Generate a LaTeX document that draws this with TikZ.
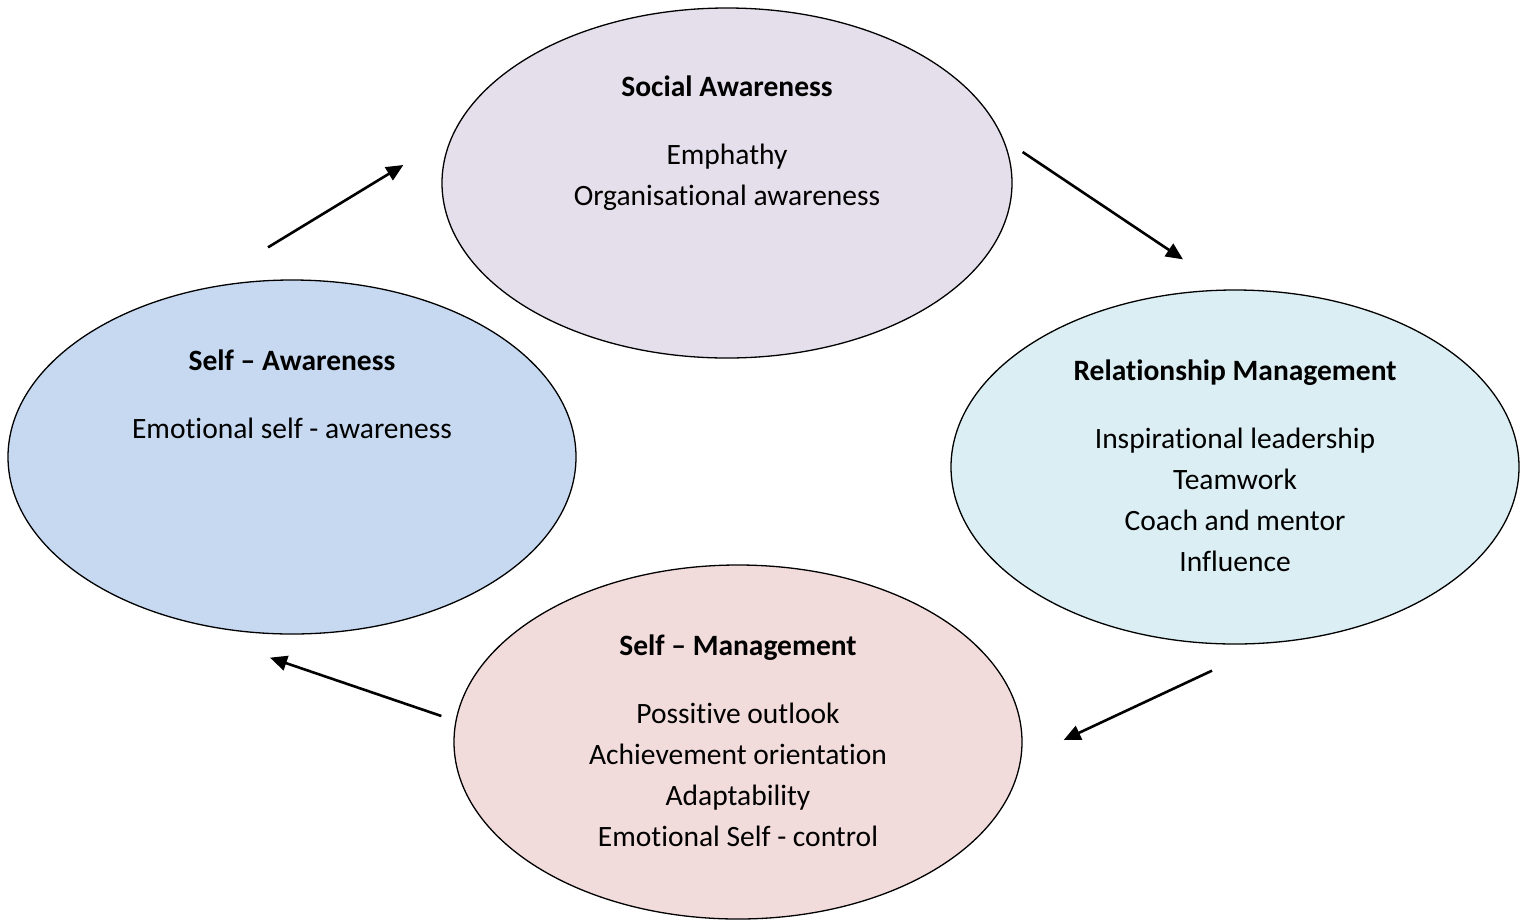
\documentclass[tikz,border=0pt]{standalone}
\usepackage{fontspec}
\setmainfont{Carlito}[Ligatures=NoCommon]
\usetikzlibrary{arrows.meta,shapes.geometric,calc}

\definecolor{socfill}{HTML}{E5DFEC}
\definecolor{safill}{HTML}{C6D9F1}
\definecolor{rmfill}{HTML}{DBEEF3}
\definecolor{smfill}{HTML}{F2DCDB}

\begin{document}
\begin{tikzpicture}[x=1pt,y=-1pt,->,>={Triangle[length=17pt,width=15pt]},
                    line width=2.6pt]

  \tikzstyle{bubble}=[ellipse,draw,line width=1.3pt,inner sep=0pt,
                      minimum width=568pt,minimum height=354pt]
  \tikzstyle{words}=[anchor=north,inner sep=0pt,align=center,
                     font=\fontsize{29.5}{41}\selectfont]

  \useasboundingbox (0,0) rectangle (1526,922);

  \node[bubble,fill=socfill,minimum width=570pt,minimum height=350pt] (soc) at (727,183) {};
  \node[bubble,fill=safill]  (sa)  at (292,457) {};
  \node[bubble,fill=rmfill]  (rm)  at (1235,467) {};
  \node[bubble,fill=smfill]  (sm)  at (738,742) {};

  \node[words] (soctxt) at ($(soc.center)+(0,-109)$)
    {\textbf{Social Awareness}\\[27pt] Emphathy\\ Organisational awareness};
  \node[words] (satxt) at ($(sa.center)+(0,-109)$)
    {\textbf{Self -- Awareness}\\[27pt] Emotional self - awareness};
  \node[words] (rmtxt) at ($(rm.center)+(0,-109)$)
    {\textbf{Relationship Management}\\[27pt] Inspirational leadership\\ Teamwork\\
     Coach and mentor\\ Influence};
  \node[words] (smtxt) at ($(sm.center)+(0,-109)$)
    {\textbf{Self -- Management}\\[27pt] Possitive outlook\\ Achievement orientation\\
     Adaptability\\ Emotional Self - control};

  \draw ($(sa.north)+(-24,-32)$) -- ($(soc.west)+(-38,-18)$);
  \draw ($(soc.east)+(10,-31)$)  -- ($(rm.north)+(-52,-30)$);
  \draw ($(rm.south)+(-23,26)$)  -- ($(sm.east)+(41,-2)$);
  \draw ($(sm.west)+(-12,-26)$)  -- ($(sa.south)+(-22,23)$);
\end{tikzpicture}
\end{document}
